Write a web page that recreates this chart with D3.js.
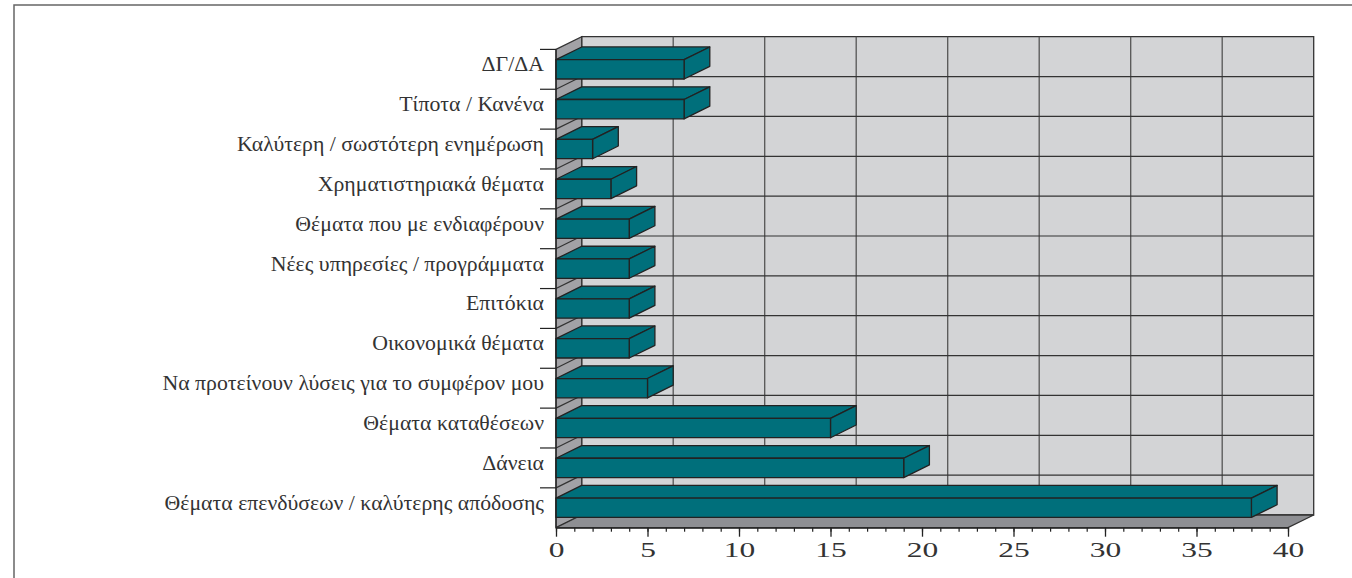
<!DOCTYPE html>
<html>
<head>
<meta charset="utf-8">
<script src="https://cdn.jsdelivr.net/npm/d3@7"></script>
<style>
  body { margin: 0; background: #fff; }
  svg { display: block; }
</style>
</head>
<body>
<div id="chart"></div>
<script>
// categories from top to bottom, as in the picture
var categories = [
  "ΔΓ/ΔΑ",
  "Τίποτα / Κανένα",
  "Καλύτερη / σωστότερη ενημέρωση",
  "Χρηματιστηριακά θέματα",
  "Θέματα που με ενδιαφέρουν",
  "Νέες υπηρεσίες / προγράμματα",
  "Επιτόκια",
  "Οικονομικά θέματα",
  "Να προτείνουν λύσεις για το συμφέρον μου",
  "Θέματα καταθέσεων",
  "Δάνεια",
  "Θέματα επενδύσεων / καλύτερης απόδοσης"
];
var values = [7, 7, 2, 3, 4, 4, 4, 4, 5, 15, 19, 38];
var xTicks = [0, 5, 10, 15, 20, 25, 30, 35, 40];

var W = 1352, H = 578;
var dx = 25.7, dy = -12.7;   // depth of the 3d effect
var barColor = "#006f7b";

var svg = d3.select("#chart").append("svg")
  .attr("width", W).attr("height", H);

// outer frame
svg.append("rect")
  .attr("x", 14).attr("y", 5)
  .attr("width", W + 20).attr("height", H + 20)
  .attr("fill", "none").attr("stroke", "#666").attr("stroke-width", 1.5);

var x = d3.scaleLinear().domain([0, 40]).range([556, 1288]);
var y = d3.scaleBand().domain(categories).range([49.4, 527.7]);

var x0 = x(0), x1 = x(40), yTop = y.range()[0], yBot = y.range()[1];

function pts(arr) { return arr.map(function(p){ return p.join(","); }).join(" "); }

// back wall
svg.append("polygon")
  .attr("points", pts([[x0+dx, yTop+dy], [x1+dx, yTop+dy], [x1+dx, yBot+dy], [x0+dx, yBot+dy]]))
  .attr("fill", "#d3d4d6").attr("stroke", "#333").attr("stroke-width", 1.3);

// left wall
svg.append("polygon")
  .attr("points", pts([[x0, yTop], [x0+dx, yTop+dy], [x0+dx, yBot+dy], [x0, yBot]]))
  .attr("fill", "#a2a2a6").attr("stroke", "#333").attr("stroke-width", 1.2);

// floor
svg.append("polygon")
  .attr("points", pts([[x0, yBot], [x1, yBot], [x1+dx, yBot+dy], [x0+dx, yBot+dy]]))
  .attr("fill", "#8e8f93").attr("stroke", "#333").attr("stroke-width", 1.3);

// vertical grid lines on the back wall
svg.append("g").selectAll("line")
  .data(xTicks.slice(1, -1))
  .join("line")
  .attr("x1", function(d){ return x(d)+dx; }).attr("x2", function(d){ return x(d)+dx; })
  .attr("y1", yTop+dy).attr("y2", yBot+dy)
  .attr("stroke", "#555").attr("stroke-width", 1.3);

// horizontal grid lines (back wall + left wall) at band boundaries
var bounds = categories.slice(1).map(function(c){ return y(c); });
var grid = svg.append("g");
grid.selectAll("line.h")
  .data(bounds)
  .join("line").attr("class", "h")
  .attr("x1", x0+dx).attr("x2", x1+dx)
  .attr("y1", function(d){ return d+dy; }).attr("y2", function(d){ return d+dy; })
  .attr("stroke", "#333").attr("stroke-width", 1.2);
grid.selectAll("line.d")
  .data(bounds)
  .join("line").attr("class", "d")
  .attr("x1", x0).attr("x2", x0+dx)
  .attr("y1", function(d){ return d; }).attr("y2", function(d){ return d+dy; })
  .attr("stroke", "#333").attr("stroke-width", 1.2);

// bars
var bh = y.bandwidth() * 0.485;
var bars = svg.append("g").selectAll("g")
  .data(categories)
  .join("g");

bars.each(function(c, i){
  var g = d3.select(this);
  var top = y(c) + (y.bandwidth() - bh) / 2;
  var xe = x(values[i]);
  // top face
  g.append("polygon")
    .attr("points", pts([[x0, top], [xe, top], [xe+dx, top+dy], [x0+dx, top+dy]]));
  // side face
  g.append("polygon")
    .attr("points", pts([[xe, top], [xe+dx, top+dy], [xe+dx, top+bh+dy], [xe, top+bh]]));
  // front face
  g.append("rect")
    .attr("x", x0).attr("y", top)
    .attr("width", xe - x0).attr("height", bh);
});
bars.selectAll("polygon, rect")
  .attr("fill", barColor).attr("stroke", "#222").attr("stroke-width", 1.3)
  .attr("stroke-linejoin", "round");

// left axis: line and ticks at band boundaries
svg.append("line")
  .attr("x1", x0).attr("x2", x0).attr("y1", yTop).attr("y2", yBot)
  .attr("stroke", "#222").attr("stroke-width", 1.3);
svg.append("g").selectAll("line")
  .data([yTop].concat(bounds))
  .join("line")
  .attr("x1", x0 - 16).attr("x2", x0)
  .attr("y1", function(d){ return d; }).attr("y2", function(d){ return d; })
  .attr("stroke", "#222").attr("stroke-width", 1.2);

// category labels (the original face is wider, so stretch a little)
svg.append("g").selectAll("text")
  .data(categories)
  .join("text")
  .attr("transform", function(c){
    return "translate(544," + (y(c) + y.bandwidth()/2 + 2) + ") scale(1.09,1)";
  })
  .attr("text-anchor", "end")
  .attr("font-family", "Liberation Serif, serif")
  .attr("font-size", 20)
  .attr("fill", "#333")
  .text(function(c){ return c; });

// bottom axis
var minor = svg.append("g").attr("transform", "translate(0," + yBot + ")")
  .call(d3.axisBottom(x).tickValues(d3.range(0, 41, 1)).tickSize(4).tickFormat(""));
minor.select(".domain").remove();
minor.selectAll("line").attr("stroke", "#222").attr("stroke-width", 1.2);

var xAxis = svg.append("g").attr("transform", "translate(0," + yBot + ")")
  .call(d3.axisBottom(x).tickValues(xTicks).tickSize(9).tickSizeOuter(0));
xAxis.select(".domain").attr("stroke", "#222").attr("stroke-width", 1.3);
xAxis.selectAll("line").attr("stroke", "#222").attr("stroke-width", 1.3);
xAxis.selectAll("text")
  .attr("y", 29).attr("dy", 0)
  .attr("transform", "scale(1.5,1)")
  .attr("font-family", "Liberation Serif, serif")
  .attr("font-size", 21)
  .attr("fill", "#333");
</script>
</body>
</html>
